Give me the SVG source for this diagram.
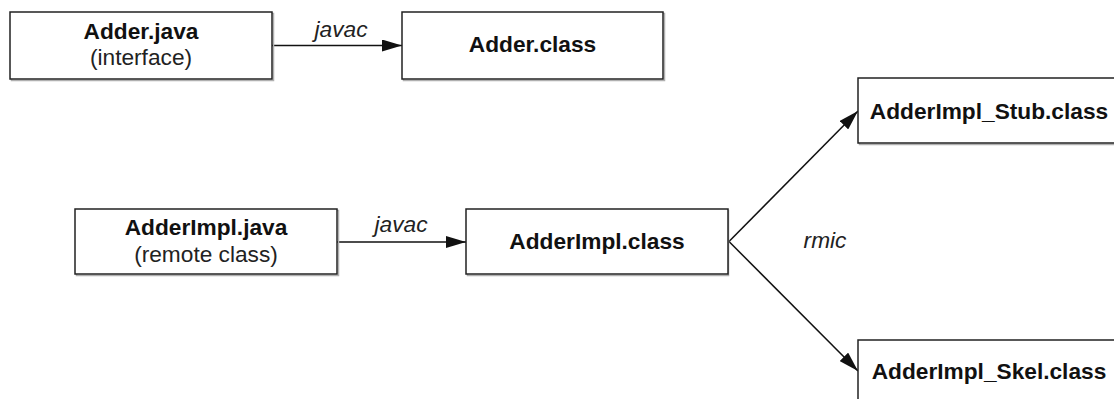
<svg xmlns="http://www.w3.org/2000/svg" width="1114" height="399" viewBox="0 0 1114 399">
<style>
  .box { fill: #ffffff; stroke: #222222; stroke-width: 1.5; }
  .shadow { fill: none; stroke: #b0b0b0; stroke-width: 1.5; }
  .b { font-family: "Liberation Sans", Arial, sans-serif; font-size: 22.7px; font-weight: bold; fill: #111111; text-anchor: middle; }
  .r { font-family: "Liberation Sans", Arial, sans-serif; font-size: 22.7px; fill: #222222; text-anchor: middle; }
  .lbl { font-family: "Liberation Sans", Arial, sans-serif; font-size: 22.7px; font-style: italic; fill: #222222; text-anchor: middle; }
  .edge { fill: none; stroke: #111111; stroke-width: 1.5; }
</style>
<defs>
  <marker id="arrow" markerWidth="20" markerHeight="12" refX="20" refY="6" orient="auto" markerUnits="userSpaceOnUse">
    <path d="M0,0 L20,6 L0,12 Z" fill="#111111"/>
  </marker>
</defs>
<rect width="1114" height="399" fill="#ffffff"/>

<g id="connectors">
  <line class="edge" x1="272" y1="45.5" x2="402" y2="45.5" marker-end="url(#arrow)"/>
  <text class="lbl" x="341" y="37">javac</text>
  <line class="edge" x1="337" y1="242" x2="466" y2="242" marker-end="url(#arrow)"/>
  <text class="lbl" x="401" y="232">javac</text>
  <line class="edge" x1="729" y1="241.5" x2="858" y2="111" marker-end="url(#arrow)"/>
  <line class="edge" x1="729" y1="241.5" x2="858" y2="371" marker-end="url(#arrow)"/>
  <text class="lbl" x="825" y="248">rmic</text>
</g>

<g id="adder-java">
  <rect class="shadow" x="11.5" y="13.5" width="262" height="67"/>
  <rect class="box" x="10" y="12" width="262" height="67"/>
  <text class="b" x="141" y="38.5">Adder.java</text>
  <text class="r" x="141" y="65">(interface)</text>
</g>

<g id="adder-class">
  <rect class="shadow" x="403.5" y="13.5" width="261" height="67"/>
  <rect class="box" x="402" y="12" width="261" height="67"/>
  <text class="b" x="532.5" y="52">Adder.class</text>
</g>

<g id="adderimpl-java">
  <rect class="shadow" x="76.5" y="210.5" width="262" height="65"/>
  <rect class="box" x="75" y="209" width="262" height="65"/>
  <text class="b" x="206" y="235">AdderImpl.java</text>
  <text class="r" x="206" y="262">(remote class)</text>
</g>

<g id="adderimpl-class">
  <rect class="shadow" x="467.5" y="210.5" width="261" height="65"/>
  <rect class="box" x="466" y="209" width="262" height="65"/>
  <text class="b" x="597" y="248.5">AdderImpl.class</text>
</g>

<g id="adderimpl-stub">
  <rect class="shadow" x="859.5" y="79.5" width="262" height="65"/>
  <rect class="box" x="858" y="78" width="262" height="65"/>
  <text class="b" x="989" y="118.5">AdderImpl_Stub.class</text>
</g>

<g id="adderimpl-skel">
  <rect class="shadow" x="859.5" y="341.5" width="262" height="65"/>
  <rect class="box" x="858" y="340" width="262" height="65"/>
  <text class="b" x="989" y="379">AdderImpl_Skel.class</text>
</g>
</svg>
